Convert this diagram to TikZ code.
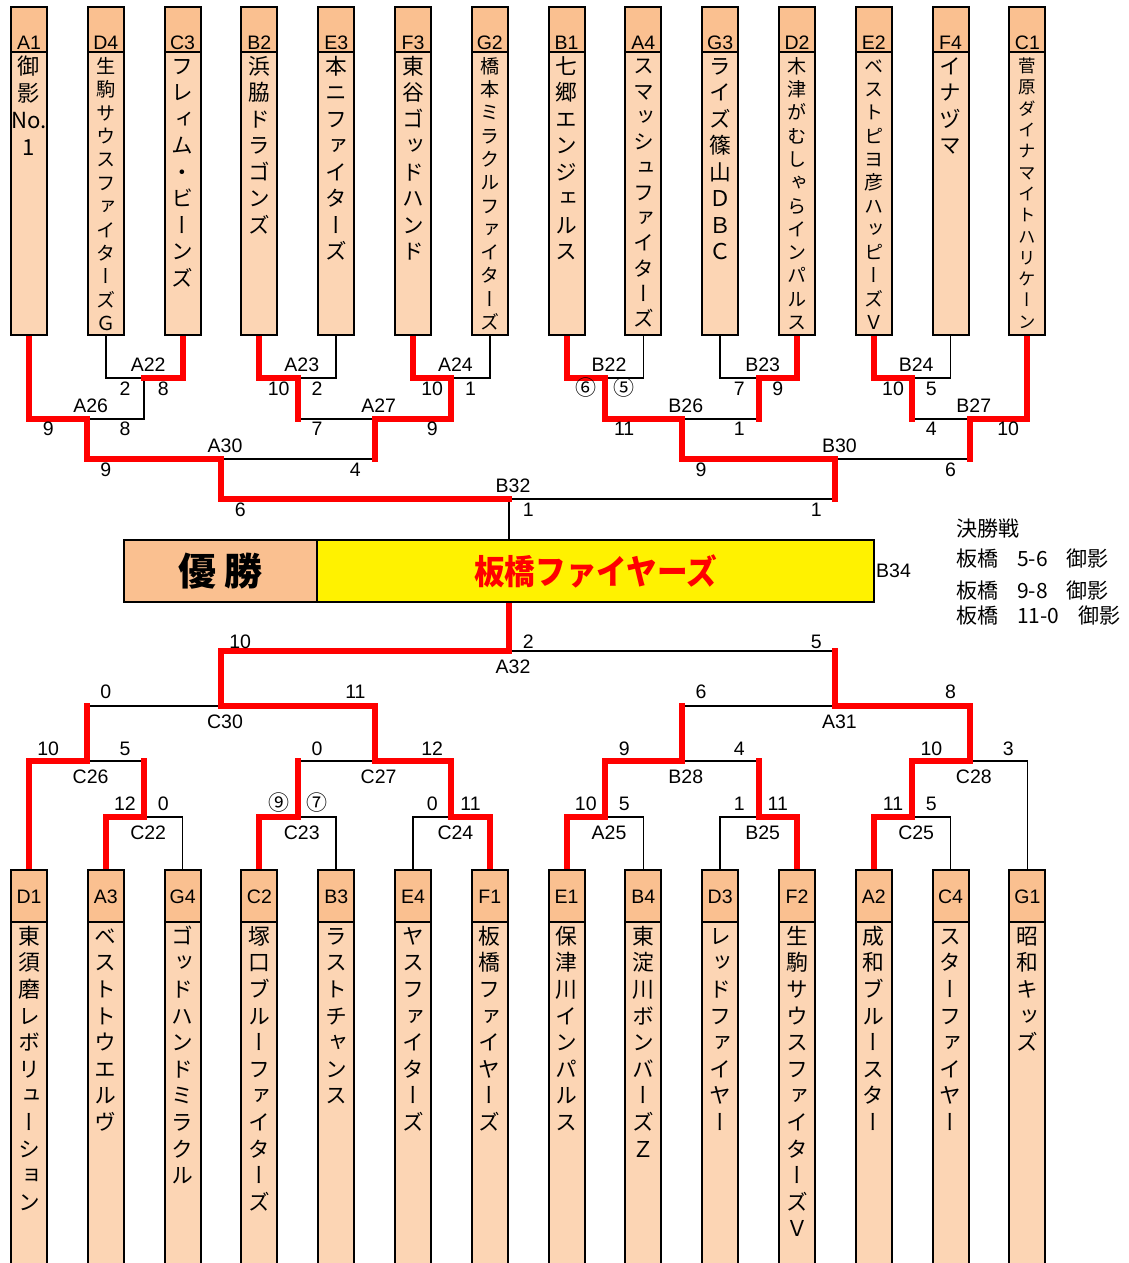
\documentclass[tikz,border=0pt]{standalone}
\usepackage{fontspec}
\usepackage{graphicx}
\setmainfont{Liberation Sans}
\newfontfamily\jp{Noto Sans CJK JP}
\newfontfamily\vjp{Noto Sans CJK JP}[RawFeature=+vert]
\usetikzlibrary{positioning,backgrounds}

\definecolor{hdrc}{HTML}{FAC090}
\definecolor{bodyc}{HTML}{FCD5B4}
\newcommand\labfont{\fontsize{19.5}{21}\selectfont}
\newcommand\circfont{\jp\fontsize{21}{23}\selectfont}

% team names: one character per line
\def\vendmark{\vend}
\def\vnameloop#1{\def\vtmp{#1}\ifx\vtmp\vendmark\else
  \hbox to 0pt{\hss\vrule height .88em depth .12em width 0pt\relax#1\hss}%
  \expandafter\vnameloop\fi}
\newcommand\vname[2]{\vtop{\baselineskip=#1pt\relax\expandafter\vnameloop#2\vend}}
\def\No{No.}

\begin{document}
\begin{tikzpicture}
[x=1pt, y=-1pt,
hdrtop/.style={draw,line width=2pt,fill=hdrc,minimum width=36pt,minimum height=45pt,
  inner sep=0pt,outer sep=0pt,anchor=north,text height=39pt,text depth=0pt,font=\labfont},
hdrbot/.style={hdrtop,minimum height=52pt,text height=14pt},
bodytop/.style={draw,line width=2pt,fill=bodyc,minimum width=36pt,minimum height=283pt,
  inner sep=0pt,outer sep=0pt},
bodybot/.style={bodytop,minimum height=350pt},
vnm/.style={anchor=north,inner sep=0pt,outer sep=0pt},
mlabel/.style={font=\labfont,inner sep=0pt},
score/.style={font=\labfont,inner sep=0pt,anchor=base},
legend/.style={font=\jp\fontsize{21}{24}\selectfont,inner sep=0pt,anchor=base west},
champ/.style={draw,line width=2pt,fill=hdrc,minimum width=193pt,minimum height=62pt,
  inner sep=0pt,outer sep=0pt,anchor=north west,font=\jp\bfseries\fontsize{38}{40}\selectfont},
champname/.style={draw,line width=2pt,fill=yellow,minimum width=557pt,minimum height=62pt,
  inner sep=0pt,outer sep=0pt,text=red,font=\jp\bfseries\fontsize{34}{36}\selectfont},
win/.style={red,line width=6pt,line cap=rect},
lose/.style={black,line width=1.5pt,line cap=rect}]
\useasboundingbox (0,0) rectangle (1128,1263);

% top row of teams
\foreach \i/\id/\nm/\pit in {0/A1/御影\No 1/27, 1/D4/生駒サウスファイターズＧ/23.4,
  2/C3/フレィム・ビーンズ/26.5, 3/B2/浜脇ドラゴンズ/26.5, 4/E3/本ニファイターズ/26.5,
  5/F3/東谷ゴッドハンド/26.5, 6/G2/橋本ミラクルファイターズ/23.3, 7/B1/七郷エンジェルス/26.5,
  8/A4/スマッシュファイターズ/25.3, 9/G3/ライズ篠山ＤＢＣ/26.5, 10/D2/木津がむしゃらインパルス/23.3,
  11/E2/ベストピヨ彦ハッピーズＶ/23.3, 12/F4/イナヅマ/26.5, 13/C1/菅原ダイナマイトハリケーン/21.3}{
  \pgfmathsetmacro\fs{0.82*\pit}
  \node[hdrtop] (h\id) at ({29+76.8*\i},7) {\id};
  \node[bodytop, below=0pt of h\id] (t\id) {};
  \node[vnm, font={\vjp\fontsize{\fs}{\pit}\selectfont}] (n\id) at ({29+76.8*\i},{66-0.5*\fs}) {\vname{\pit}{\nm}};
}

% bottom row of teams
\foreach \i/\id/\nm in {0/D1/東須磨レボリューション, 1/A3/ベストトウエルヴ, 2/G4/ゴッドハンドミラクル,
  3/C2/塚口ブルーファイターズ, 4/B3/ラストチャンス, 5/E4/ヤスファイターズ, 6/F1/板橋ファイヤーズ,
  7/E1/保津川インパルス, 8/B4/東淀川ボンバーズＺ, 9/D3/レッドファイヤー, 10/F2/生駒サウスファイターズＶ,
  11/A2/成和ブルースター, 12/C4/スターファイヤー, 13/G1/昭和キッズ}{
  \node[hdrbot] (h\id) at ({29+76.8*\i},870) {\id};
  \node[bodybot, below=0pt of h\id] (t\id) {};
  \node[vnm, font={\vjp\fontsize{21.8}{26.6}\selectfont}] (n\id) at ({29+76.8*\i},925.1) {\vname{26.6}{\nm}};
}

% winner box
\node[champ] (champ) at (124,540) {優\hspace{9pt}勝};
\node[champname, right=0pt of champ] (champname) {\scalebox{0.9}[1]{板橋ファイヤーズ}};
\node[mlabel, anchor=west] (lB34) at ([xshift=2pt]champname.east) {B34};

% match points
\foreach \m/\k/\y in {A22/6/378, A23/14/378, A24/22/378, A26/3/419, A27/18/419, A30/10/459,
  B22/30/378, B23/38/378, B24/46/378, B26/34/419, B27/49/419, B30/42/459, B32/25/499,
  A32/25/651, C30/10/706, A31/42/706, C26/3/761, C27/18/761, B28/34/761, C28/49/761,
  C22/6/817, C23/14/817, C24/22/817, A25/30/817, B25/38/817, C25/46/817}
  \coordinate (\m) at ({29+19.2*\k},\y);

\foreach \m in {A22,A23,A24,A26,A27,A30,B22,B23,B24,B26,B27,B30,B32}
  \node[mlabel, anchor=base, xshift=4pt, yshift=6.5pt] (l\m) at (\m) {\m};
\foreach \m in {A32,C30,A31,C26,C27,B28,C28,C22,C23,C24,A25,B25,C25}
  \node[mlabel, anchor=base, xshift=4pt, yshift=-22.5pt] (l\m) at (\m) {\m};

% scores
\foreach \k/\y/\t in {5/395/2, 7/395/8, 13/395/10, 15/395/2, 21/395/10, 23/395/1,
  1/435/9, 5/435/8, 15/435/7, 21/435/9, 4/476/9, 17/476/4,
  11/516/6, 26/516/1, 41/516/1,
  29/395/{\circfont ⑥}, 31/395/{\circfont ⑤}, 37/395/7, 39/395/9, 45/395/10, 47/395/5,
  31/435/11, 37/435/1, 47/435/4, 51/435/10, 35/476/9, 48/476/6,
  11/648/10, 26/648/2, 41/648/5,
  4/698/0, 17/698/11, 35/698/6, 48/698/8,
  1/755/10, 5/755/5, 15/755/0, 21/755/12, 31/755/9, 37/755/4, 47/755/10, 51/755/3,
  5/810/12, 7/810/0, 13/810/{\circfont ⑨}, 15/810/{\circfont ⑦}, 21/810/0, 23/810/11,
  29/810/10, 31/810/5, 37/810/1, 39/810/11, 45/810/11, 47/810/5}
  \node[score] (s\k-\y) at ({29+19.2*\k},\y) {\t};

% final series
\foreach \t/\y [count=\n] in {決勝戦/536, 板橋\hspace{19pt}5-6\hspace{19pt}御影/566,
  板橋\hspace{19pt}9-8\hspace{19pt}御影/598, 板橋\hspace{19pt}11-0\hspace{19pt}御影/623}
  \node[legend] (final\n) at (956,\y) {\t};

% bracket lines
\begin{scope}[on background layer]
\foreach \src/\dst in {tD4.south/A22, tE3.south/A23, tG2.south/A24, A22/A26, tA4.south/B22,
  tG3.south/B23, tF4.south/B24, tG4.north/C22, tB3.north/C23, tE4.north/C24,
  tB4.north/A25, tD3.north/B25, tC4.north/C25, tG1.north/C28}
  \draw[lose] (\src) |- (\dst);
\draw[lose] (B32) -- (B32 |- champname.north);
\foreach \src/\dst in {A23/A27, B23/B26, B24/B27, A27/A30, B27/B30, B30/B32, A31/A32,
  C26/C30, B28/A31, C22/C26, C23/C27, B25/B28}{
  \draw[lose] (\src |- \dst) -- (\dst);
  \draw[win] (\src) -- (\src |- \dst);
}
\foreach \src/\dst in {tA1.south/A26, tC3.south/A22, tB2.south/A23, tF3.south/A24, A24/A27,
  A26/A30, A30/B32, tB1.south/B22, tD2.south/B23, B22/B26, tE2.south/B24, tC1.south/B27,
  B26/B30, C30/A32, C27/C30, C28/A31, tD1.north/C26, C24/C27, A25/B28, C25/C28,
  tA3.north/C22, tC2.north/C23, tF1.north/C24, tE1.north/A25, tF2.north/B25, tA2.north/C25}
  \draw[win] (\src) |- (\dst);
\draw[win] (champname.south -| A32) -- (A32);
\end{scope}
\end{tikzpicture}
\end{document}
